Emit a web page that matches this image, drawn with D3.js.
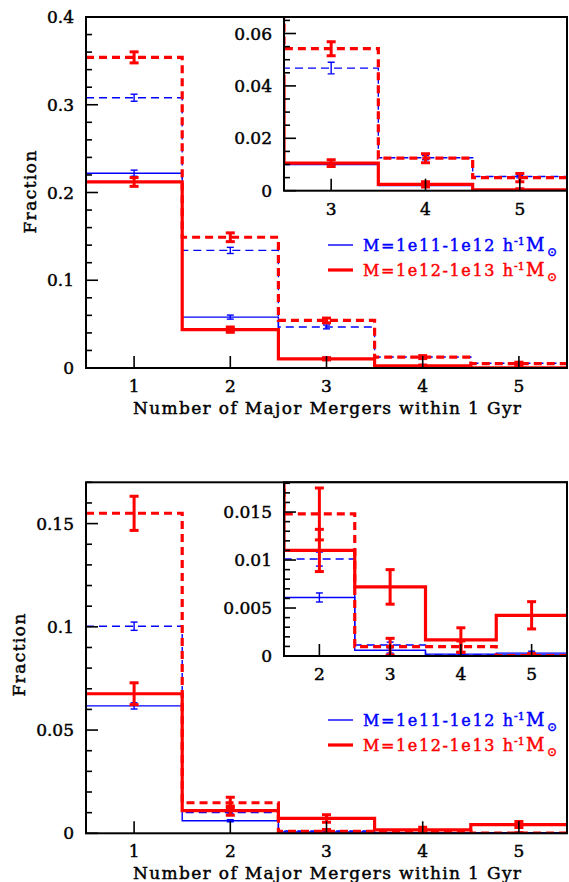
<!DOCTYPE html>
<html>
<head>
<meta charset="utf-8">
<script src="https://cdn.jsdelivr.net/npm/d3@7"></script>
<style>
  body { margin: 0; background: #fff; }
  text { font-family: "DejaVu Serif", serif; fill: #000; stroke: #000; stroke-width: 0.45px; }
</style>
</head>
<body>
<script>
// bins: number of major mergers within 1 Gyr
const bins = [1, 2, 3, 4, 5];
const xTicks = [1, 2, 3, 4, 5];

// upper panel
const topBlueSolid     = [0.222, 0.058, 0.0100, 0.0020, 0.0004];
const topBlueSolidErr  = [0.0035, 0.0023, 0.0008, 0.0004, 0.0002];
const topBlueDashed    = [0.308, 0.134, 0.0468, 0.0126, 0.0054];
const topBlueDashedErr = [0.004, 0.0035, 0.0022, 0.0008, 0.0005];
const topRedSolid      = [0.212, 0.0437, 0.0105, 0.0024, 0.0003];
const topRedSolidErr   = [0.005, 0.003, 0.0013, 0.001, 0.0004];
const topRedDashed     = [0.354, 0.149, 0.0542, 0.0124, 0.0050];
const topRedDashedErr  = [0.0063, 0.005, 0.0027, 0.0017, 0.0016];

// lower panel
const botBlueSolid     = [0.0617, 0.0061, 0.0006, 0.0002, 0.0003];
const botBlueSolidErr  = [0.0015, 0.00047, 0.0003, 0.0002, 0.0002];
const botBlueDashed    = [0.1003, 0.0101, 0.00115, 0.0001, 0.0001];
const botBlueDashedErr = [0.002, 0.00073, 0.0003, 0.0001, 0.0001];
const botRedSolid      = [0.0676, 0.0110, 0.0072, 0.00167, 0.00424];
const botRedSolidErr   = [0.0053, 0.0022, 0.0018, 0.00127, 0.00142];
const botRedDashed     = [0.155, 0.0148, 0.00097, 0.00097, 0.00005];
const botRedDashedErr  = [0.0083, 0.0027, 0.00087, 0.0006, 0.0002];

const legendLabels = ["M=1e11-1e12 h", "M=1e12-1e13 h"];

const blue = "#0000ff", red = "#ff0000";

const width = 569, height = 882;

const svg = d3.select("body").append("svg")
    .attr("width", width)
    .attr("height", height);

let clipId = 0;

function series(vals, errs, color, dashed) {
  return { vals, errs, color, dashed };
}

// one framed box of histograms with inward ticks
function box(g, o) {
  const x = d3.scaleLinear().domain(o.xDomain).range([o.left, o.right]);
  const y = d3.scaleLinear().domain(o.yDomain).range([o.bottom, o.top]);

  if (o.fill) {
    g.append("rect")
        .attr("x", o.left).attr("y", o.top)
        .attr("width", o.right - o.left).attr("height", o.bottom - o.top)
        .attr("fill", "#fff");
  }

  const id = "clip" + (clipId++);
  g.append("clipPath").attr("id", id)
    .append("rect")
      .attr("x", o.left).attr("y", o.top)
      .attr("width", o.right - o.left).attr("height", o.bottom - o.top);

  const plot = g.append("g").attr("clip-path", "url(#" + id + ")");

  const step = d3.line()
      .x(d => x(d[0]))
      .y(d => y(d[1]))
      .curve(d3.curveStepAfter);

  o.series.forEach(s => {
    const pts = bins.map((b, i) => [b - 0.5, s.vals[i]]);
    pts.push([bins[bins.length - 1] + 0.5, s.vals[s.vals.length - 1]]);
    const lw = s.color === red ? 3.2 : 1.4;

    plot.append("path")
        .attr("d", step(pts))
        .attr("fill", "none")
        .attr("stroke", s.color)
        .attr("stroke-width", lw)
        .attr("stroke-dasharray", s.dashed ? "8,5" : null);

    const cap = s.color === red ? 4.5 : 3.5;
    const eb = plot.append("g")
        .attr("stroke", s.color)
        .attr("stroke-width", s.color === red ? 3 : 1.4);
    bins.forEach((b, i) => {
      const cx = x(b), y0 = y(s.vals[i] - s.errs[i]), y1 = y(s.vals[i] + s.errs[i]);
      eb.append("line").attr("x1", cx).attr("x2", cx).attr("y1", y0).attr("y2", y1);
      eb.append("line").attr("x1", cx - cap).attr("x2", cx + cap).attr("y1", y0).attr("y2", y0);
      eb.append("line").attr("x1", cx - cap).attr("x2", cx + cap).attr("y1", y1).attr("y2", y1);
    });
  });

  // ticks
  const tk = g.append("g").attr("stroke", "#000").attr("stroke-width", 1.6);
  const minor = d3.range(0, o.yDomain[1] + 1e-9, o.yMinor);
  minor.forEach(v => {
    const isMajor = Math.abs(v / o.yMajor - Math.round(v / o.yMajor)) < 1e-6;
    tk.append("line")
        .attr("x1", o.left).attr("x2", o.left + (isMajor ? 12 : 6))
        .attr("y1", y(v)).attr("y2", y(v));
  });
  const xt = xTicks.filter(t => t > o.xDomain[0] && t < o.xDomain[1]);
  xt.forEach(t => {
    tk.append("line")
        .attr("x1", x(t)).attr("x2", x(t))
        .attr("y1", o.bottom).attr("y2", o.bottom - 12);
  });

  // tick labels
  const yt = d3.range(0, o.yDomain[1] + 1e-9, o.yMajor);
  g.selectAll(null).data(yt).join("text")
      .attr("x", o.left - 12)
      .attr("y", d => y(d))
      .attr("dy", "0.36em")
      .attr("text-anchor", "end")
      .attr("font-size", 17)
      .text(d => d === 0 ? "0" : d3.format("~g")(+d.toFixed(4)));

  g.selectAll(null).data(xt).join("text")
      .attr("x", d => x(d))
      .attr("y", o.bottom + 24)
      .attr("text-anchor", "middle")
      .attr("font-size", 17)
      .text(d => d);

  // frame
  g.append("rect")
      .attr("x", o.left).attr("y", o.top)
      .attr("width", o.right - o.left).attr("height", o.bottom - o.top)
      .attr("fill", "none")
      .attr("stroke", "#000")
      .attr("stroke-width", 2);
}

function legend(g, lx, ly) {
  const colors = [blue, red];
  const widths = [1.4, 3.2];
  legendLabels.forEach((lab, i) => {
    const yy = ly + i * 25;
    const c = colors[i];
    g.append("line")
        .attr("x1", lx).attr("x2", lx + 25)
        .attr("y1", yy).attr("y2", yy)
        .attr("stroke", c).attr("stroke-width", widths[i]);
    g.append("text")
        .attr("x", lx + 35).attr("y", yy + 6)
        .attr("font-size", 16)
        .attr("textLength", 150)
        .attr("lengthAdjust", "spacing")
        .style("fill", c).style("stroke", c)
        .text(lab);
    g.append("text")
        .attr("x", lx + 186).attr("y", yy)
        .attr("font-size", 11)
        .style("fill", c).style("stroke", c)
        .text("-1");
    g.append("text")
        .attr("x", lx + 198).attr("y", yy + 6)
        .attr("font-size", 18)
        .style("fill", c).style("stroke", c)
        .text("M");
    g.append("text")
        .attr("x", lx + 219).attr("y", yy + 11)
        .attr("font-size", 12)
        .style("fill", c).style("stroke", c)
        .text("\u2299");
  });
}

function panel(o) {
  const g = svg.append("g");
  box(g, {
    left: 86, right: 567, top: o.top, bottom: o.bottom,
    xDomain: [0.5, 5.5], yDomain: o.yDomain,
    yMajor: o.yMajor, yMinor: o.yMinor, series: o.series
  });
  box(g, {
    left: 284, right: 567, top: o.top, bottom: o.insetBottom,
    xDomain: o.insetX, yDomain: o.insetY,
    yMajor: o.insetMajor, yMinor: o.insetMinor, series: o.series, fill: true
  });
  legend(g, 328, o.legendY);

  g.append("text")
      .attr("x", 327).attr("y", o.bottom + 46)
      .attr("text-anchor", "middle")
      .attr("font-size", 17)
      .attr("textLength", 388)
      .attr("lengthAdjust", "spacing")
      .text("Number of Major Mergers within 1 Gyr");

  g.append("text")
      .attr("transform", `translate(${o.ylabX},${o.ylabY}) rotate(-90)`)
      .attr("text-anchor", "middle")
      .attr("dy", "0.36em")
      .attr("font-size", 17)
      .attr("textLength", 83)
      .attr("lengthAdjust", "spacing")
      .text("Fraction");
}

panel({
  top: 17, bottom: 368, yDomain: [0, 0.4], yMajor: 0.1, yMinor: 0.02,
  insetBottom: 190.7, insetX: [2.5, 5.5], insetY: [0, 0.0663],
  insetMajor: 0.02, insetMinor: 0.005, legendY: 245,
  ylabX: 30, ylabY: 192,
  series: [
    series(topBlueDashed, topBlueDashedErr, blue, true),
    series(topBlueSolid, topBlueSolidErr, blue, false),
    series(topRedDashed, topRedDashedErr, red, true),
    series(topRedSolid, topRedSolidErr, red, false)
  ]
});

panel({
  top: 482.3, bottom: 833.3, yDomain: [0, 0.17], yMajor: 0.05, yMinor: 0.01,
  insetBottom: 656, insetX: [1.5, 5.5], insetY: [0, 0.0181],
  insetMajor: 0.005, insetMinor: 0.001, legendY: 720,
  ylabX: 19, ylabY: 655,
  series: [
    series(botBlueDashed, botBlueDashedErr, blue, true),
    series(botBlueSolid, botBlueSolidErr, blue, false),
    series(botRedDashed, botRedDashedErr, red, true),
    series(botRedSolid, botRedSolidErr, red, false)
  ]
});
</script>
</body>
</html>
